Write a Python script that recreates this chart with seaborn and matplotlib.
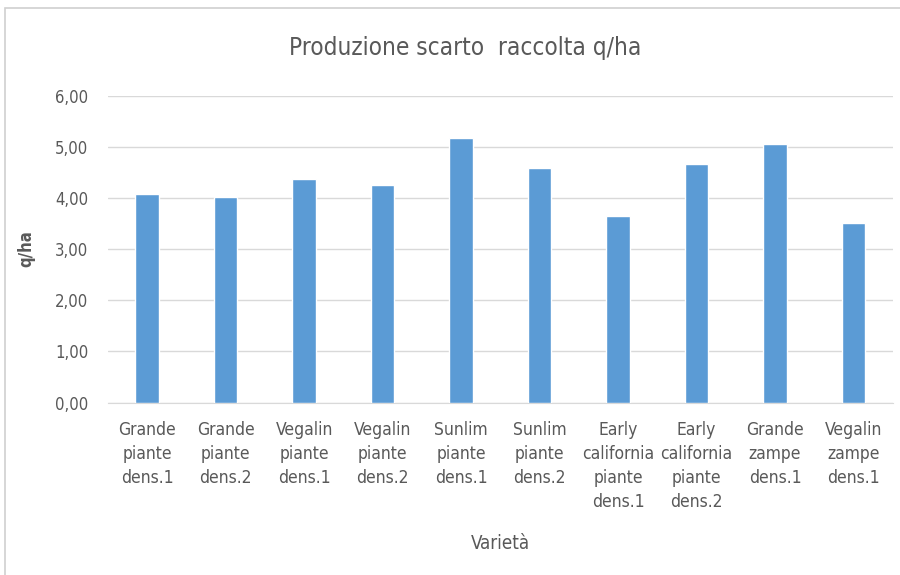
import seaborn as sns
import matplotlib.pyplot as plt
import matplotlib.patches as mpatches
import pandas as pd

# dati
varieta = [
    "Grande\npiante\ndens.1", "Grande\npiante\ndens.2",
    "Vegalin\npiante\ndens.1", "Vegalin\npiante\ndens.2",
    "Sunlim\npiante\ndens.1", "Sunlim\npiante\ndens.2",
    "Early\ncalifornia\npiante\ndens.1", "Early\ncalifornia\npiante\ndens.2",
    "Grande\nzampe\ndens.1", "Vegalin\nzampe\ndens.1",
]
scarto = [4.08, 4.01, 4.37, 4.26, 5.17, 4.59, 3.65, 4.66, 5.05, 3.51]
y_ticks = [0, 1, 2, 3, 4, 5, 6]

df = pd.DataFrame({"Varietà": varieta, "q/ha": scarto})

sns.set_style("white")
plt.rcParams['font.family'] = ['DejaVu Sans']
plt.rcParams['font.stretch'] = 'condensed'
grigio = "#595959"

fig = plt.figure(figsize=(9, 5.75), dpi=100)
ax = fig.add_axes([0.12, 0.30, 0.872, 0.5336])

sns.barplot(data=df, x="Varietà", y="q/ha", color="#5B9BD5", width=0.3,
            saturation=1, ax=ax, zorder=3)

ax.set_ylim(0, 6)
ax.set_yticks(y_ticks)
ax.set_yticklabels([f"{v:.2f}".replace(".", ",") for v in y_ticks],
                   fontsize=12, color=grigio)
ax.tick_params(axis="x", labelsize=12.5, labelcolor=grigio, length=0, pad=13)
ax.tick_params(axis="y", length=0, pad=14)
for lab in ax.get_xticklabels():
    lab.set_linespacing(1.45)
ax.set_xlim(-0.5, len(varieta) - 0.5)
ax.yaxis.grid(True, color="#D9D9D9", linewidth=1, zorder=0)
for s in ["top", "right", "left"]:
    ax.spines[s].set_visible(False)
ax.spines["bottom"].set_color("#D9D9D9")

ax.set_xlabel("Varietà", fontsize=13.5, color=grigio, labelpad=16)
ax.set_ylabel("q/ha", fontsize=12, color=grigio, fontweight="bold", labelpad=14)
ax.set_title("Produzione scarto  raccolta q/ha", fontsize=17.5, color=grigio,
             pad=29, x=0.455)

# cornice del grafico
fig.patches.append(mpatches.Rectangle((0.006, -0.01), 1.0, 0.996, transform=fig.transFigure,
                                      fill=False, edgecolor="#D0D0D0", linewidth=1.2))

plt.savefig("out.png", dpi=100)
